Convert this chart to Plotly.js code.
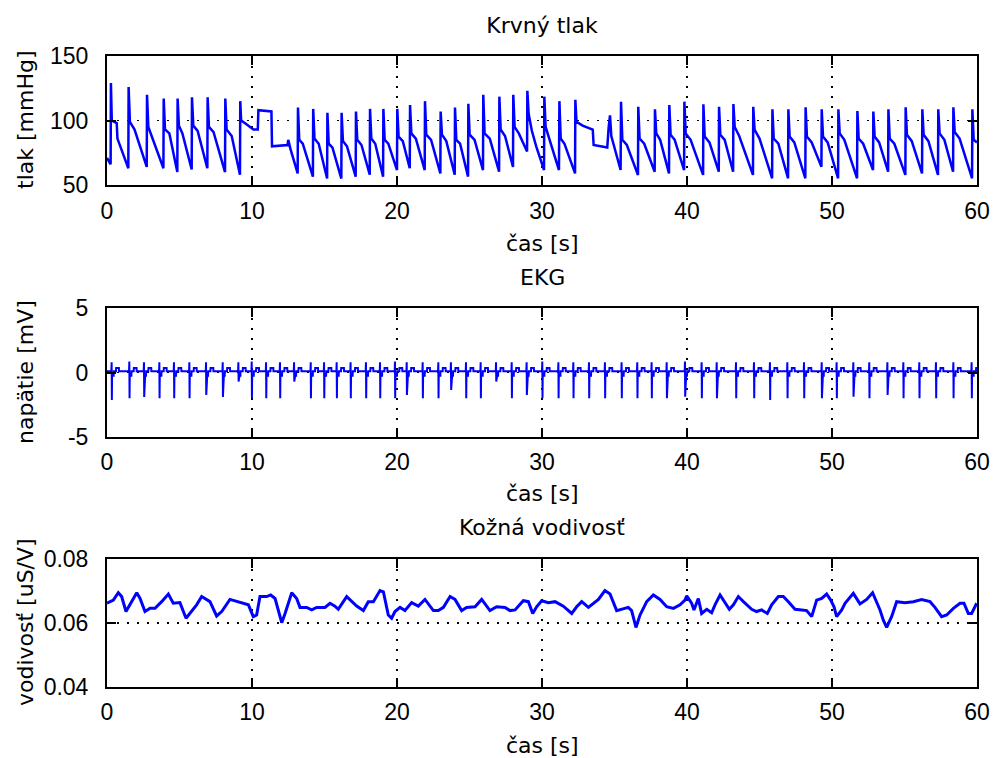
<!DOCTYPE html>
<html>
<head>
<meta charset="utf-8">
<script src="https://cdn.plot.ly/plotly-3.0.1.min.js"></script>
<style>
html,body{margin:0;padding:0;background:#fff;}
#chart{width:993px;height:758px;}
</style>
</head>
<body>
<div id="chart"></div>
<script>
// ---------- Data: blood pressure (vertices of the trace, s / mmHg) ----------
const bpTime = [0, 0.18, 0.25, 0.27, 0.33, 0.67, 0.72,
 1.47, 1.49, 1.58, 1.9,
 2.74, 2.76, 2.85, 3.1,
 3.89, 3.91, 4.0, 4.3,
 4.85, 4.87, 4.96, 5.2,
 5.84, 5.86, 5.95, 6.25,
 6.92, 6.94, 7.03, 7.35,
 8.14, 8.16, 8.25, 8.6,
 9.17, 9.19, 9.25, 9.5, 10.1, 10.4, 10.44, 11.34, 11.38, 12.45, 12.5, 12.65,
 13.15, 13.17, 13.26, 13.5,
 14.2, 14.22, 14.31, 14.6,
 15.18, 15.2, 15.29, 15.55,
 16.16, 16.18, 16.27, 16.55,
 17.15, 17.17, 17.26, 17.55,
 18.12, 18.14, 18.23, 18.5,
 19.04, 19.06, 19.15, 19.4,
 20.0, 20.02, 20.11, 20.4,
 20.88, 20.9, 20.99, 21.3,
 21.91, 21.93, 22.02, 22.35,
 22.99, 23.01, 23.1, 23.4,
 23.98, 24.0, 24.09, 24.35,
 24.9, 24.92, 25.01, 25.35,
 25.93, 25.95, 26.04, 26.4,
 27.04, 27.06, 27.15, 27.45,
 28.0, 28.02, 28.11, 28.4,
 28.97, 28.99, 29.08, 29.3, 29.6,
 30.14, 30.16, 30.25, 30.45,
 31.17, 31.2, 31.29, 31.55,
 32.28, 32.3, 32.38, 32.8, 33.5, 33.56, 34.5, 34.6, 34.69, 34.78,
 35.42, 35.45, 35.54, 35.85,
 36.62, 36.64, 36.73, 37.05,
 37.77, 37.79, 37.88, 38.15,
 38.76, 38.78, 38.87, 39.15,
 39.8, 39.82, 39.91, 40.25,
 41.11, 41.13, 41.22, 41.55,
 42.19, 42.21, 42.3, 42.6,
 43.18, 43.2, 43.29, 43.6,
 44.55, 44.57, 44.66, 45.0,
 45.87, 45.89, 45.98, 46.3,
 46.97, 46.99, 47.08, 47.4,
 48.16, 48.18, 48.27, 48.6,
 49.27, 49.29, 49.38, 49.7,
 50.42, 50.44, 50.53, 50.85,
 51.73, 51.75, 51.84, 52.15,
 52.83, 52.85, 52.94, 53.25,
 53.87, 53.89, 53.98, 54.3,
 55.06, 55.08, 55.17, 55.5,
 56.21, 56.23, 56.32, 56.65,
 57.31, 57.33, 57.42, 57.75,
 58.35, 58.37, 58.46, 58.8,
 59.66, 59.68, 59.77, 60];
const bpValue = [71, 67, 66, 129, 100, 98, 86,
 63, 126, 99, 93,
 64, 120, 95, 87,
 63, 117, 93, 90,
 60, 117, 96, 90,
 62, 118, 96, 92,
 63, 118, 95, 91,
 60, 117, 93, 88,
 58, 115, 100, 98, 93, 93, 108, 107, 80, 81, 85, 78,
 59, 110, 85, 82,
 56.5, 109, 86, 82,
 55, 106, 82, 79,
 55, 106, 84, 80,
 56.5, 107, 85, 81,
 58, 109, 86, 82,
 56.5, 109, 85, 82,
 61.6, 109, 87.5, 84,
 63, 112, 90, 86,
 61.6, 115, 89, 85,
 59, 107, 89, 84,
 58, 110, 85, 82,
 56.5, 113, 89, 85,
 61.6, 120, 90, 86,
 60.3, 118.5, 93, 88,
 64, 120, 95, 90,
 76, 123, 105, 92, 80,
 61.6, 118.5, 95, 87.5,
 61.6, 115, 86, 82,
 59, 116, 99, 96, 93, 81, 79, 95, 104, 88,
 61.6, 114.6, 85, 81,
 57.8, 110.7, 86, 82,
 60.3, 108.7, 90, 85,
 59, 112, 89, 85,
 61.6, 114.6, 90, 85,
 57.8, 112.5, 87.5, 83,
 60.3, 110.7, 89, 85,
 60.3, 112.8, 95, 88,
 57.8, 110.7, 93, 86,
 55.2, 108.7, 86, 82,
 55.2, 108.7, 87.5, 83,
 55.2, 110.2, 87.5, 83,
 64.2, 108.7, 87.5, 83,
 55.2, 108.7, 90, 85,
 55.2, 107.4, 86, 82,
 61.6, 107, 87.5, 83,
 60.3, 108.7, 86, 82,
 57.8, 110.2, 89, 84,
 59, 108.7, 89, 84,
 57.8, 108.7, 90, 85,
 60.3, 110.2, 91, 86,
 55.2, 108.7, 85, 83];

// ---------- Data: EKG beats (s / mV) ----------
const ecgBeatTime = [0.32,1.54,2.55,3.61,4.62,5.68,6.83,7.98,9.06,9.98,10.97,11.93,12.9,14.05,14.97,15.84,16.8,17.86,18.83,19.86,
 20.67,21.77,22.85,23.72,24.76,25.77,26.83,27.91,28.94,30.02,31.13,32.16,33.24,34.34,35.49,36.57,37.56,38.6,39.86,
 41.01,42.05,43.38,44.62,45.72,46.92,48.07,49.29,50.32,51.47,52.57,53.82,54.92,56.02,57.17,58.37,59.63];
const ecgR = [0.8,0.85,0.8,0.8,0.8,0.8,0.8,0.8,0.8,0.85,0.8,0.8,0.8,0.8,0.8,0.8,0.8,0.8,0.8,0.85,
 0.8,0.8,0.8,0.8,0.8,0.8,0.8,0.8,0.8,0.85,0.8,0.8,0.8,0.8,0.8,0.8,0.8,0.8,0.85,
 0.8,0.8,0.8,0.8,0.8,0.8,0.8,0.8,0.8,0.8,0.8,0.8,0.8,0.8,0.8,0.8,0.8];
const ecgS = [-2.15,-2.0,-1.9,-2.0,-2.0,-2.0,-1.75,-1.9,-0.7,-2.0,-2.0,-2.0,-0.7,-2.0,-2.0,-2.0,-2.0,-2.0,-2.0,-2.0,
 -1.75,-2.0,-2.0,-1.36,-2.0,-2.0,-0.7,-2.0,-1.75,-2.0,-2.0,-2.0,-2.0,-2.0,-2.0,-2.0,-2.0,-2.0,-1.88,
 -2.0,-2.0,-2.0,-2.0,-2.14,-2.0,-2.0,-2.0,-2.0,-1.88,-2.0,-1.75,-2.0,-2.0,-2.0,-2.0,-2.0];
const ecgS2 = [null,null,-1.6,null,null,null,-1.5,-1.6,-0.6,null,null,null,-0.6,null,null,null,null,null,null,null,
 -1.5,null,null,-1.2,null,null,-0.6,null,-1.5,null,null,null,null,null,null,null,null,-1.6,-1.6,
 null,-1.7,null,null,null,null,null,-1.7,null,-1.6,null,-1.5,null,null,null,null,null];
const ecgLevels = {base: 0.1, dip: -0.25, tWave: 0.35};

// ---------- Data: skin conductance (s / uS/V) ----------
const gsrTime = [0.0,0.44,0.78,1.01,1.31,1.59,2.05,2.28,2.62,2.97,3.31,3.77,4.23,4.57,5.03,5.45,5.84,6.18,6.53,6.87,7.10,7.56,7.91,8.48,8.94,9.40,9.75,10.09,10.32,10.55,11.01,11.29,11.59,12.05,12.28,12.74,13.08,13.31,13.77,14.12,14.46,15.03,15.38,15.72,15.95,16.53,16.87,17.22,17.68,18.02,18.37,18.83,19.06,19.40,19.63,19.86,20.21,20.55,21.01,21.47,21.93,22.51,22.85,23.2,23.66,24.0,24.46,24.8,25.38,25.84,26.41,26.87,27.45,27.79,28.14,28.71,29.06,29.36,29.63,29.98,30.44,30.9,31.47,32.05,32.39,32.74,33.2,33.89,34.34,34.69,35.15,35.61,35.95,36.18,36.48,36.76,37.22,37.68,38.14,38.6,39.06,39.52,39.86,39.98,40.32,40.48,40.78,41.01,41.36,41.7,41.93,42.28,42.51,42.92,43.2,43.54,43.89,44.46,44.8,45.15,45.54,45.84,46.3,46.64,46.99,47.45,47.91,48.25,48.6,48.94,49.29,49.63,49.91,50.14,50.32,50.67,50.9,51.47,51.93,52.39,52.8,53.31,53.54,53.77,54.11,54.46,55.03,55.61,56.18,56.76,57.1,57.56,57.91,58.37,58.83,59.1,59.4,59.63,59.98];
const gsrValue = [0.0662,0.0672,0.0695,0.0683,0.0636,0.0657,0.0695,0.0677,0.0636,0.0646,0.0646,0.0667,0.0691,0.0662,0.0664,0.0615,0.0636,0.0657,0.0683,0.0672,0.0667,0.0622,0.0636,0.0674,0.0667,0.0662,0.0657,0.0620,0.0625,0.0683,0.0683,0.0688,0.0677,0.0601,0.0630,0.0695,0.0677,0.0649,0.0649,0.0641,0.0649,0.0649,0.0662,0.0653,0.0643,0.0683,0.0667,0.0653,0.0639,0.0667,0.0667,0.0702,0.0698,0.0625,0.0615,0.0636,0.0649,0.0639,0.0664,0.0653,0.0674,0.0639,0.0639,0.0649,0.0683,0.0674,0.0639,0.0649,0.0651,0.0674,0.0639,0.0651,0.0649,0.0639,0.0641,0.0670,0.0667,0.0630,0.0651,0.0670,0.0664,0.0667,0.0653,0.0630,0.0651,0.0667,0.0649,0.0674,0.0702,0.0691,0.0639,0.0646,0.0649,0.0639,0.0586,0.0625,0.0667,0.0688,0.0674,0.0651,0.0646,0.0657,0.0672,0.0685,0.0662,0.0641,0.0677,0.0630,0.0643,0.0632,0.0657,0.0688,0.0672,0.0643,0.0657,0.0683,0.0667,0.0643,0.0636,0.0641,0.0630,0.0657,0.0683,0.0683,0.0667,0.0643,0.0641,0.0639,0.0620,0.0672,0.0677,0.0691,0.0672,0.0651,0.0620,0.0641,0.0662,0.0693,0.0660,0.0674,0.0695,0.0641,0.0609,0.0586,0.0620,0.0667,0.0664,0.0667,0.0674,0.0667,0.0649,0.0620,0.0625,0.0646,0.0662,0.0662,0.0630,0.0630,0.0662];

// ---------- Tick labels ----------
const xTicks = [0,10,20,30,40,50,60];
const xTickText = ["0","10","20","30","40","50","60"];
const bpTicks = [50,100,150];
const bpTickText = ["50","100","150"];
const ecgTicks = [-5,0,5];
const ecgTickText = ["-5","0","5"];
const gsrTicks = [0.04,0.06,0.08];
const gsrTickText = ["0.04","0.06","0.08"];

// Build EKG polyline from the beat table
const ecgX = [0], ecgY = [ecgLevels.base];
ecgBeatTime.forEach((t, i) => {
  ecgX.push(t - 0.02); ecgY.push(ecgLevels.base);
  ecgX.push(t); ecgY.push(ecgR[i]);
  ecgX.push(t + 0.015); ecgY.push(ecgS[i]);
  ecgX.push(t + 0.03); ecgY.push(ecgLevels.dip);
  if (ecgS2[i] !== null) {
    ecgX.push(t + 0.06); ecgY.push(ecgS2[i]);
    ecgX.push(t + 0.08); ecgY.push(ecgLevels.dip);
  }
  ecgX.push(t + 0.14); ecgY.push(ecgLevels.dip);
  ecgX.push(t + 0.15); ecgY.push(ecgLevels.base);
  ecgX.push(t + 0.3); ecgY.push(ecgLevels.base);
  ecgX.push(t + 0.31); ecgY.push(ecgLevels.tWave);
  ecgX.push(Math.min(t + 0.5, 60)); ecgY.push(ecgLevels.tWave);
  if (t + 0.51 < 60) { ecgX.push(t + 0.51); ecgY.push(ecgLevels.base); }
});

const BLUE = '#0000ff';
const tickFont = {family: 'Liberation Sans, Arial, sans-serif', size: 23, color: '#000'};
const labFont = {family: 'DejaVu Sans, sans-serif', size: 22, color: '#000'};

const traces = [
  {x: bpTime, y: bpValue, xaxis: 'x', yaxis: 'y', type: 'scatter', mode: 'lines', line: {color: BLUE, width: 2.5}, hoverinfo: 'skip'},
  {x: ecgX, y: ecgY, xaxis: 'x2', yaxis: 'y2', type: 'scatter', mode: 'lines', line: {color: BLUE, width: 2}, hoverinfo: 'skip'},
  {x: gsrTime, y: gsrValue, xaxis: 'x3', yaxis: 'y3', type: 'scatter', mode: 'lines', line: {color: BLUE, width: 3}, hoverinfo: 'skip'}
];

const xDom = [107/993, 977/993];
function yd(top, bottom){ return [1 - bottom/758, 1 - top/758]; }

function xAxis(anchor){
  return {domain: xDom, anchor: anchor, range: [0, 60], tickvals: xTicks, ticktext: xTickText,
    ticks: 'inside', ticklen: 9, tickwidth: 2, tickcolor: '#000', mirror: 'ticks',
    showline: true, linecolor: '#000', linewidth: 2, showgrid: true, gridcolor: '#000',
    gridwidth: 1.5, griddash: '2px,8px', zeroline: false, tickfont: tickFont, ticklabelstandoff: 4, automargin: false, fixedrange: true};
}
function yAxis(anchor, dom, range, tv, tt){
  return {domain: dom, anchor: anchor, range: range, tickvals: tv, ticktext: tt,
    ticks: 'inside', ticklen: 9, tickwidth: 2, tickcolor: '#000', mirror: 'ticks',
    showline: true, linecolor: '#000', linewidth: 2, showgrid: true, gridcolor: '#000',
    gridwidth: 1.5, griddash: '2px,8px', zeroline: false, tickfont: tickFont, ticklabelstandoff: 12, automargin: false, fixedrange: true};
}

const cx = 542/993;
function ann(text, x, yPix, angle){
  return {text: text, xref: 'paper', yref: 'paper', x: x, y: 1 - yPix/758, xanchor: 'center', yanchor: 'middle',
    showarrow: false, font: labFont, textangle: angle || 0};
}

const layout = {
  width: 993, height: 758,
  margin: {l: 0, r: 0, t: 0, b: 0},
  paper_bgcolor: '#fff', plot_bgcolor: '#fff',
  showlegend: false,
  title: {text: 'Krvný tlak', font: labFont, x: cx, xanchor: 'center', y: 1 - 25/758, yanchor: 'middle', xref: 'paper', yref: 'container'},
  xaxis: xAxis('y'),
  yaxis: yAxis('x', yd(56, 185), [50, 150], bpTicks, bpTickText),
  xaxis2: xAxis('y2'),
  yaxis2: yAxis('x2', yd(308.3, 436.7), [-5, 5], ecgTicks, ecgTickText),
  xaxis3: xAxis('y3'),
  yaxis3: yAxis('x3', yd(559.3, 686.7), [0.04, 0.08], gsrTicks, gsrTickText),
  annotations: [
    ann('čas [s]', cx, 243),
    ann('EKG', cx, 278),
    ann('čas [s]', cx, 493),
    ann('Kožná vodivosť', cx, 527),
    ann('čas [s]', cx, 745),
    ann('tlak [mmHg]', 25/993, 120, -90),
    ann('napätie [mV]', 25/993, 372, -90),
    ann('vodivosť [uS/V]', 25/993, 622, -90)
  ]
};

Plotly.newPlot('chart', traces, layout, {displayModeBar: false, staticPlot: true});
</script>
</body>
</html>
